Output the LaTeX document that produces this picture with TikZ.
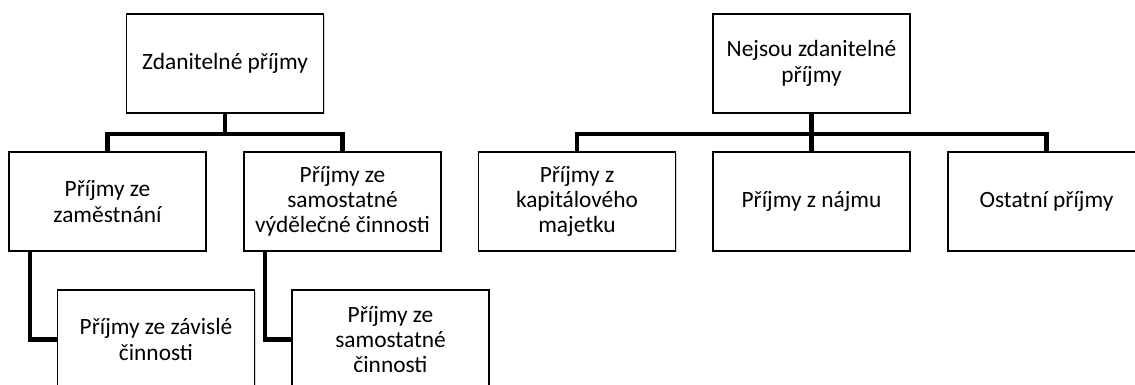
\documentclass[tikz,border=0pt]{standalone}
\usepackage{fontspec}
\setmainfont{Carlito}
\usepackage{tikz}
\usetikzlibrary{shadows}
\usetikzlibrary{positioning}

\begin{document}
\begin{tikzpicture}[x=0.02cm, y=-0.02cm,
	box/.style={draw, line width=0.8pt, fill=white, minimum width=3.94cm,
		minimum height=1.98cm, align=center, inner sep=2pt,
		font=\fontsize{13.3}{14.4}\selectfont,
		drop shadow={shadow xshift=0.6pt, shadow yshift=-0.6pt, opacity=0.35}},
	conn/.style={line width=2.3pt}]
	\useasboundingbox (0, 0) rectangle (1135, 385);
	\node[box] (zdan) at (225, 63.5) {Zdanitelné příjmy};
	\node[box] (nezdan) at (811.5, 63.5) {Nejsou zdanitelné\\příjmy};
	\node[box] (zam) at (107.5, 201.5) {Příjmy ze\\zaměstnání};
	\node[box] (svc) at (342.5, 201.5) {Příjmy ze\\samostatné\\výdělečné činnosti};
	\node[box] (kap) at (577, 201.5) {Příjmy z\\kapitálového\\majetku};
	\node[box] (najem) at (811.5, 201.5) {Příjmy z nájmu};
	\node[box] (ostatni) at (1046.5, 201.5) {Ostatní příjmy};
	\node[box] (zav) at (156, 339.5) {Příjmy ze závislé\\činnosti};
	\node[box] (samo) at (390.5, 339.5) {Příjmy ze\\samostatné\\činnosti};
	\draw[conn] (zdan.south) -- ++(0, 20) -| (zam.north);
	\draw[conn] (zdan.south) -- ++(0, 20) -| (svc.north);
	\draw[conn] (nezdan.south) -- ++(0, 20) -| (kap.north);
	\draw[conn] (nezdan.south) -- (najem.north);
	\draw[conn] (nezdan.south) -- ++(0, 20) -| (ostatni.north);
	\draw[conn] ([xshift=0.44cm]zam.south west) |- (zav.west);
	\draw[conn] ([xshift=0.44cm]svc.south west) |- (samo.west);
\end{tikzpicture}
\end{document}
